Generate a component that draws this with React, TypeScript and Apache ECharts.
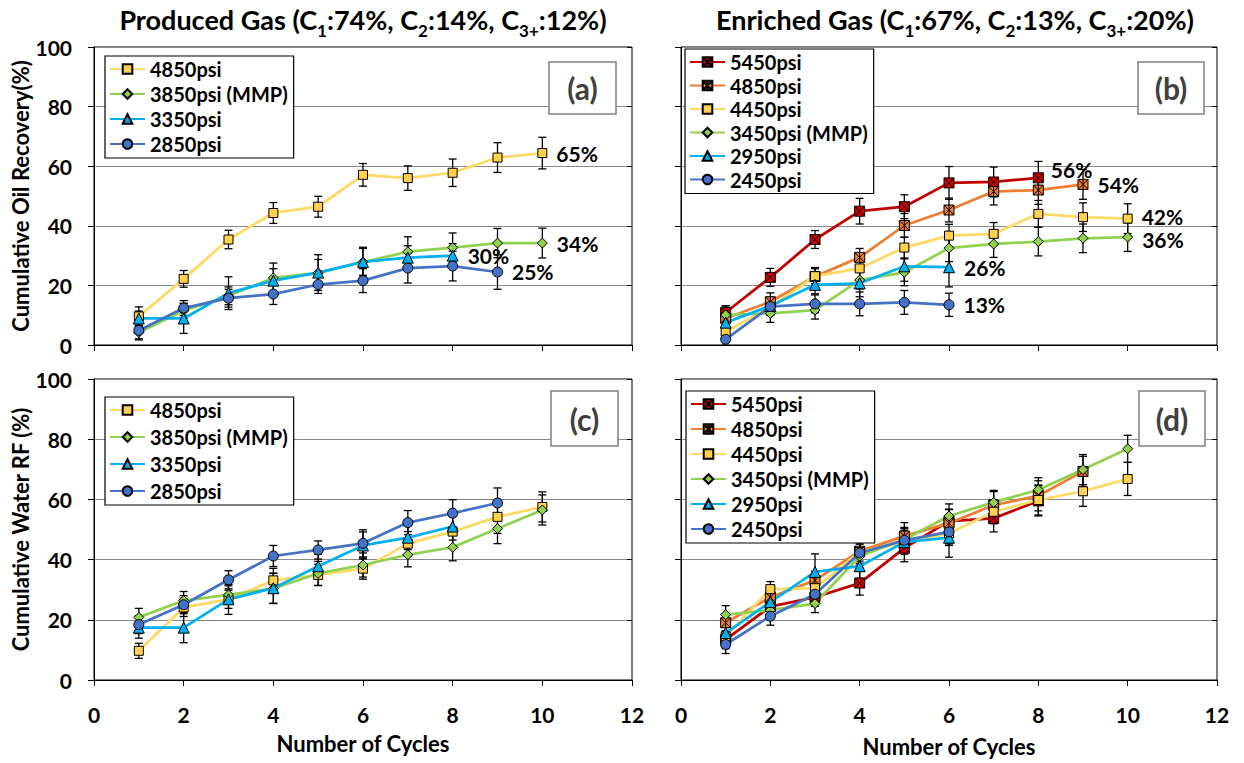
import React, { useEffect, useRef } from "react";
import * as echarts from "echarts";

const FONT = "Lato";

// ---------- data ----------
const cycles = [1, 2, 3, 4, 5, 6, 7, 8, 9, 10];
const xTicks = [0, 2, 4, 6, 8, 10, 12];
const yTicks = [0, 20, 40, 60, 80, 100];

// (a) Produced gas - cumulative oil recovery (%)
const aNames = ["4850psi", "3850psi (MMP)", "3350psi", "2850psi"];
const aOil4850 = [9.6, 22.2, 35.4, 44.3, 46.4, 57.1, 56.0, 57.8, 62.9, 64.4];
const aOil3850 = [4.2, 11.5, 16.5, 22.5, 24.2, 27.8, 31.3, 32.7, 34.2, 34.2];
const aOil3350 = [8.9, 8.9, 17.4, 21.6, 24.3, 27.9, 29.3, 30.0];
const aOil2850 = [4.9, 12.4, 15.7, 17.1, 20.3, 21.6, 25.8, 26.5, 24.5];
const aErr4850 = [3.2, 2.8, 3.1, 3.5, 3.5, 3.8, 4.1, 4.6, 5.0, 5.3];
const aErr3850 = [2.5, 2.5, 3.0, 5.0, 4.5, 5.0, 5.0, 4.9, 4.9, 5.0];
const aErr3350 = [2.5, 5.0, 5.5, 4.0, 6.0, 4.5, 4.0, 4.0];
const aErr2850 = [2.8, 2.5, 3.0, 3.5, 3.0, 4.0, 5.0, 5.0, 5.8];
const aEndLabels = ["65%", "34%", "30%", "25%"];

// (b) Enriched gas - cumulative oil recovery (%)
const bNames = ["5450psi", "4850psi", "4450psi", "3450psi (MMP)", "2950psi", "2450psi"];
const bOil5450 = [10.9, 22.7, 35.4, 44.9, 46.4, 54.4, 54.7, 56.1];
const bOil4850 = [9.0, 14.5, 23.0, 29.4, 40.1, 45.3, 51.5, 52.0, 53.9];
const bOil4450 = [4.5, 12.6, 23.1, 25.7, 32.7, 36.7, 37.3, 44.0, 42.9, 42.4];
const bOil3450 = [10.1, 10.6, 11.7, 21.8, 24.4, 32.5, 33.9, 34.7, 35.8, 36.2];
const bOil2950 = [7.5, 13.1, 20.2, 20.7, 26.4, 26.1];
const bOil2450 = [1.9, 12.9, 13.8, 13.8, 14.3, 13.5];
const bErr5450 = [2.3, 3.0, 3.0, 4.3, 4.0, 5.5, 5.0, 5.5];
const bErr4850 = [3.5, 3.0, 3.0, 3.0, 4.0, 4.0, 4.5, 4.8, 5.0];
const bErr4450 = [2.0, 2.0, 2.5, 4.0, 3.5, 3.8, 3.8, 4.5, 4.8, 5.0];
const bErr3450 = [3.0, 3.0, 3.0, 3.0, 4.5, 4.5, 4.5, 4.8, 4.8, 4.8];
const bErr2950 = [2.5, 3.0, 3.0, 4.5, 5.0, 6.6];
const bErr2450 = [2.0, 3.0, 3.0, 4.0, 4.0, 3.9];
const bEndLabels = ["56%", "54%", "42%", "36%", "26%", "13%"];

// (c) Produced gas - cumulative water RF (%)
const cNames = ["4850psi", "3850psi (MMP)", "3350psi", "2850psi"];
const cW4850 = [9.7, 24.1, 26.8, 33.1, 34.9, 37.0, 45.3, 49.3, 54.2, 57.5];
const cW3850 = [20.8, 26.4, 28.3, 30.4, 35.4, 38.2, 41.6, 44.1, 50.3, 56.5];
const cW3350 = [17.4, 17.4, 26.8, 30.5, 37.8, 44.7, 47.3, 51.0];
const cW2850 = [18.4, 25.0, 33.3, 41.2, 43.2, 45.4, 52.3, 55.4, 58.8];
const cErr4850 = [2.5, 3.0, 3.0, 4.0, 3.5, 3.5, 4.0, 5.0, 5.5, 5.0];
const cErr3850 = [3.0, 3.0, 3.0, 5.0, 4.0, 4.0, 4.0, 4.5, 5.0, 5.0];
const cErr3350 = [3.5, 5.0, 5.0, 5.0, 4.0, 4.5, 4.0, 4.5];
const cErr2850 = [3.0, 3.0, 3.0, 3.5, 3.0, 4.5, 4.0, 4.5, 5.0];

// (d) Enriched gas - cumulative water RF (%)
const dNames = ["5450psi", "4850psi", "4450psi", "3450psi (MMP)", "2950psi", "2450psi"];
const dW5450 = [13.4, 24.4, 27.5, 32.2, 43.8, 52.8, 53.7, 59.5];
const dW4850 = [19.0, 27.5, 33.1, 42.8, 47.8, 52.1, 58.1, 61.2, 69.3];
const dW4450 = [14.5, 30.2, 30.5, 42.5, 45.8, 48.7, 55.9, 59.8, 62.7, 66.8];
const dW3450 = [21.7, 23.2, 25.4, 41.1, 46.7, 54.5, 59.0, 63.2, 69.9, 76.8];
const dW2950 = [15.6, 25.9, 35.9, 37.8, 45.8, 47.3];
const dW2450 = [11.8, 21.2, 28.5, 42.2, 46.4, 49.2];
const dErr5450 = [3.0, 3.0, 3.0, 4.0, 4.5, 4.0, 4.5, 5.0];
const dErr4850 = [3.0, 3.0, 3.0, 4.0, 4.5, 4.5, 4.5, 5.0, 5.0];
const dErr4450 = [3.0, 2.5, 3.0, 3.0, 3.0, 4.0, 4.0, 5.0, 5.0, 5.5];
const dErr3450 = [3.0, 3.0, 3.0, 4.0, 4.0, 4.0, 4.0, 4.0, 5.0, 4.5];
const dErr2950 = [3.0, 3.0, 6.0, 4.0, 4.0, 6.5];
const dErr2450 = [3.0, 3.0, 3.0, 4.0, 4.0, 4.0];

const titleLeft = "Produced Gas";
const titleRight = "Enriched Gas";
const compLeft = ["74%", "14%", "12%"];
const compRight = ["67%", "13%", "20%"];
const panelTags = ["(a)", "(b)", "(c)", "(d)"];
const yNameTop = "Cumulative Oil Recovery(%)";
const yNameBottom = "Cumulative Water RF (%)";
const xName = "Number of Cycles";

// ---------- styles ----------
const X_MARK = "path://M0,0 L10,0 L10,10 L0,10 Z M0,0 L10,10 M10,0 L0,10";
const STAR_MARK = "path://M0,0 L10,0 L10,10 L0,10 Z M0,0 L10,10 M10,0 L0,10 M5,0 L5,10";
const ST: Record<string, { line: string; fill: string; symbol: string; size: number }> = {
  red: { line: "#C00000", fill: "#D00000", symbol: X_MARK, size: 10 },
  orange: { line: "#ED7D31", fill: "#ED7D31", symbol: STAR_MARK, size: 10 },
  yellow: { line: "#FFD966", fill: "#FFD24D", symbol: "rect", size: 9 },
  green: { line: "#92D050", fill: "#92D050", symbol: "diamond", size: 10 },
  cyan: { line: "#00B0F0", fill: "#00B0F0", symbol: "triangle", size: 11 },
  blue: { line: "#4472C4", fill: "#4472C4", symbol: "circle", size: 10 },
};

type Ser = { name: string; style: string; vals: number[]; errs: number[]; end?: string };
type Panel = {
  grid: any;
  legend: any;
  series: Ser[];
  labelX: boolean;
  labelY: boolean;
  yName?: string;
  xName?: string;
  xNameGap: number;
  tagBox: number[];
};

const panels: Panel[] = [
  {
    grid: { left: 94, top: 47, width: 538, height: 298 },
    legend: { left: 105, top: 56, gap: 5 },
    labelX: false,
    labelY: true,
    yName: yNameTop,
    xNameGap: 54,
    tagBox: [549, 62, 67, 52],
    series: [
      { name: aNames[0], style: "yellow", vals: aOil4850, errs: aErr4850, end: aEndLabels[0] },
      { name: aNames[1], style: "green", vals: aOil3850, errs: aErr3850, end: aEndLabels[1] },
      { name: aNames[2], style: "cyan", vals: aOil3350, errs: aErr3350, end: aEndLabels[2] },
      { name: aNames[3], style: "blue", vals: aOil2850, errs: aErr2850, end: aEndLabels[3] },
    ],
  },
  {
    grid: { left: 681, top: 47, width: 536, height: 298 },
    legend: { left: 685, top: 49, gap: 3.5 },
    labelX: false,
    labelY: false,
    xNameGap: 54,
    tagBox: [1138, 62, 66, 52],
    series: [
      { name: bNames[0], style: "red", vals: bOil5450, errs: bErr5450, end: bEndLabels[0] },
      { name: bNames[1], style: "orange", vals: bOil4850, errs: bErr4850, end: bEndLabels[1] },
      { name: bNames[2], style: "yellow", vals: bOil4450, errs: bErr4450, end: bEndLabels[2] },
      { name: bNames[3], style: "green", vals: bOil3450, errs: bErr3450, end: bEndLabels[3] },
      { name: bNames[4], style: "cyan", vals: bOil2950, errs: bErr2950, end: bEndLabels[4] },
      { name: bNames[5], style: "blue", vals: bOil2450, errs: bErr2450, end: bEndLabels[5] },
    ],
  },
  {
    grid: { left: 94, top: 379, width: 538, height: 301 },
    legend: { left: 105, top: 397, gap: 7 },
    labelX: true,
    labelY: true,
    yName: yNameBottom,
    xName: xName,
    xNameGap: 52,
    tagBox: [551, 391, 67, 55],
    series: [
      { name: cNames[0], style: "yellow", vals: cW4850, errs: cErr4850 },
      { name: cNames[1], style: "green", vals: cW3850, errs: cErr3850 },
      { name: cNames[2], style: "cyan", vals: cW3350, errs: cErr3350 },
      { name: cNames[3], style: "blue", vals: cW2850, errs: cErr2850 },
    ],
  },
  {
    grid: { left: 681, top: 379, width: 536, height: 301 },
    legend: { left: 686, top: 391, gap: 5 },
    labelX: true,
    labelY: false,
    xName: xName,
    xNameGap: 55,
    tagBox: [1139, 391, 66, 55],
    series: [
      { name: dNames[0], style: "red", vals: dW5450, errs: dErr5450 },
      { name: dNames[1], style: "orange", vals: dW4850, errs: dErr4850 },
      { name: dNames[2], style: "yellow", vals: dW4450, errs: dErr4450 },
      { name: dNames[3], style: "green", vals: dW3450, errs: dErr3450 },
      { name: dNames[4], style: "cyan", vals: dW2950, errs: dErr2950 },
      { name: dNames[5], style: "blue", vals: dW2450, errs: dErr2450 },
    ],
  },
];

const endOffsets: Record<string, number[]> = { "56%": [-2, -8], "42%": [0, -2], "36%": [0, 2] };

function buildOption() {
  const grids: any[] = [];
  const xAxes: any[] = [];
  const yAxes: any[] = [];
  const series: any[] = [];
  const legends: any[] = [];
  const graphics: any[] = [];

  panels.forEach((p, pi) => {
    grids.push({ ...p.grid, show: true, borderColor: "#000", borderWidth: 1, backgroundColor: "#fff" });
    xAxes.push({
      type: "value",
      gridIndex: pi,
      min: xTicks[0],
      max: xTicks[xTicks.length - 1],
      interval: 2,
      axisLine: { show: true, lineStyle: { color: "#000", width: 1 } },
      axisTick: { show: true, length: 6, lineStyle: { color: "#000" } },
      axisLabel: {
        show: p.labelX,
        margin: 24,
        fontFamily: FONT,
        fontWeight: "bold",
        fontSize: 21,
        color: "#000",
      },
      splitLine: { show: false },
      name: p.xName || "",
      nameLocation: "middle",
      nameGap: p.xNameGap,
      nameTextStyle: { fontFamily: FONT, fontWeight: "bold", fontSize: 22, color: "#000" },
    });
    yAxes.push({
      type: "value",
      gridIndex: pi,
      min: yTicks[0],
      max: yTicks[yTicks.length - 1],
      interval: 20,
      axisLine: { show: true, lineStyle: { color: "#000", width: 1 } },
      axisTick: { show: true, length: 6, lineStyle: { color: "#000" } },
      axisLabel: {
        show: p.labelY,
        margin: 22,
        fontFamily: FONT,
        fontWeight: "bold",
        fontSize: 21,
        color: "#000",
      },
      splitLine: { show: true, lineStyle: { color: "#8a8a8a", width: 1 } },
      name: p.yName || "",
      nameLocation: "middle",
      nameGap: 60,
      nameTextStyle: { fontFamily: FONT, fontWeight: "bold", fontSize: 22, color: "#000" },
    });
  });
  // inner tick overlays (cross ticks)
  panels.forEach((p, pi) => {
    yAxes.push({
      type: "value",
      gridIndex: pi,
      min: yTicks[0],
      max: yTicks[yTicks.length - 1],
      interval: 20,
      axisLine: { show: false },
      axisTick: { show: true, inside: true, length: 5, lineStyle: { color: "#000" } },
      axisLabel: { show: false },
      splitLine: { show: false },
    });
  });

  panels.forEach((p, pi) => {
    const key = "abcd"[pi];
    // error bars first
    p.series.forEach((s, si) => {
      series.push({
        type: "custom",
        name: `err-${key}-${si}`,
        xAxisIndex: pi,
        yAxisIndex: pi,
        silent: true,
        z: 2,
        data: s.vals.map((v, i) => [cycles[i], v - s.errs[i], v + s.errs[i]]),
        encode: { x: 0, y: [1, 2] },
        renderItem: (params: any, api: any) => {
          const x = api.value(0);
          const top = api.coord([x, api.value(2)]);
          const bot = api.coord([x, api.value(1)]);
          const w = 4;
          const st = { stroke: "#000", lineWidth: 1.3 };
          return {
            type: "group",
            children: [
              { type: "line", shape: { x1: top[0], y1: top[1], x2: bot[0], y2: bot[1] }, style: st },
              { type: "line", shape: { x1: top[0] - w, y1: top[1], x2: top[0] + w, y2: top[1] }, style: st },
              { type: "line", shape: { x1: bot[0] - w, y1: bot[1], x2: bot[0] + w, y2: bot[1] }, style: st },
            ],
          };
        },
      });
    });
    p.series.forEach((s) => {
      const st = ST[s.style];
      const data: any[] = s.vals.map((v, i) => {
        if (s.end && i === s.vals.length - 1) {
          return {
            value: [cycles[i], v],
            label: {
              show: true,
              position: "right",
              distance: 9,
              offset: endOffsets[s.end] || [0, 0],
              formatter: s.end,
              fontFamily: FONT,
              fontWeight: "bold",
              fontSize: 21,
              lineHeight: 18,
              color: "#000",
            },
          };
        }
        return [cycles[i], v];
      });
      series.push({
        type: "line",
        name: `${key}|${s.name}`,
        xAxisIndex: pi,
        yAxisIndex: pi,
        z: 3,
        data,
        symbol: st.symbol,
        symbolSize: st.size,
        showAllSymbol: true,
        lineStyle: { color: st.line, width: 2.75 },
        itemStyle: { color: st.fill, borderColor: "#000", borderWidth: 1 },
        emphasis: { disabled: true },
      });
    });
    legends.push({
      show: true,
      orient: "vertical",
      left: p.legend.left,
      top: p.legend.top,
      data: p.series.map((s) => `${key}|${s.name}`),
      formatter: (n: string) => n.split("|")[1],
      itemWidth: 35,
      itemHeight: 12,
      itemGap: p.legend.gap,
      padding: [3, 6, 4, 4],
      borderColor: "#000",
      borderWidth: 1.2,
      backgroundColor: "#fff",
      selectedMode: false,
      textStyle: { fontFamily: FONT, fontWeight: "bold", fontSize: 20, lineHeight: 20, color: "#000" },
    });
    const [bx, by, bw, bh] = p.tagBox;
    graphics.push({
      type: "rect",
      shape: { x: bx, y: by, width: bw, height: bh },
      style: { fill: "#fff", stroke: "#7f7f7f", lineWidth: 1.5 },
      z: 10,
    });
    graphics.push({
      type: "text",
      x: bx + bw / 2,
      y: by + bh / 2,
      style: {
        text: panelTags[pi],
        align: "center",
        verticalAlign: "middle",
        font: `bold 30px ${FONT}`,
        fill: "#404040",
      },
      z: 11,
    });
  });

  const titleRich = {
    n: { fontFamily: FONT, fontWeight: "bold", fontSize: 27, color: "#000", lineHeight: 31, verticalAlign: "top" },
    s: { fontFamily: FONT, fontWeight: "bold", fontSize: 17, color: "#000", lineHeight: 17, padding: [18, 0, 0, 0] },
  };
  const mkTitle = (head: string, c: string[]) =>
    `{n|${head} (C}{s|1}{n|:${c[0]}, C}{s|2}{n|:${c[1]}, C}{s|3+}{n|:${c[2]})}`;
  graphics.push({
    type: "text",
    x: 363,
    y: 21,
    style: { text: mkTitle(titleLeft, compLeft), rich: titleRich, align: "center", verticalAlign: "middle" },
  });
  graphics.push({
    type: "text",
    x: 955,
    y: 21,
    style: { text: mkTitle(titleRight, compRight), rich: titleRich, align: "center", verticalAlign: "middle" },
  });

  return {
    animation: false,
    backgroundColor: "#fff",
    grid: grids,
    xAxis: xAxes,
    yAxis: yAxes,
    legend: legends,
    series,
    graphic: graphics,
  };
}

export default function App() {
  const ref = useRef<HTMLDivElement>(null);
  useEffect(() => {
    if (!ref.current) return;
    const chart = echarts.init(ref.current, undefined, { renderer: "svg" });
    chart.setOption(buildOption() as any);
    return () => chart.dispose();
  }, []);
  return (
    <div
      ref={ref}
      style={{ position: "fixed", left: 0, top: 0, width: 1244, height: 763, background: "#fff" }}
    />
  );
}
